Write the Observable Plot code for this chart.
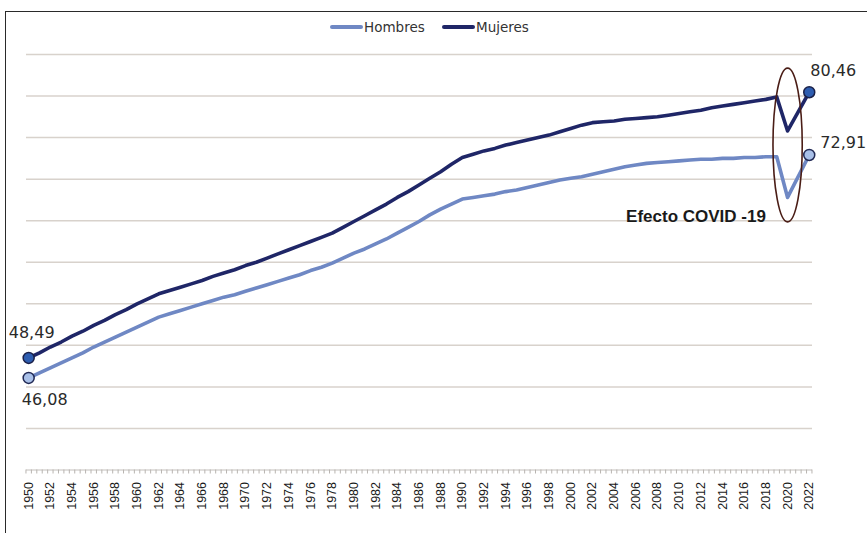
<!DOCTYPE html>
<html><head><meta charset="utf-8">
<script src="https://cdn.jsdelivr.net/npm/d3@7"></script>
<script src="https://cdn.jsdelivr.net/npm/@observablehq/plot@0.6"></script>
<style>
body{margin:0;background:#fff;overflow:hidden;}
#wrap{position:relative;width:867px;height:533px;overflow:hidden;background:#fff;}
#frame{position:absolute;left:5px;top:11px;width:900px;height:600px;border:1.5px solid #2a2a2a;box-sizing:border-box;pointer-events:none;}
#legend{position:relative;height:40px;}
.sw{position:absolute;height:4px;border-radius:2px;}
.lt{position:absolute;font-family:"DejaVu Sans";font-size:13.5px;color:#333;line-height:16px;white-space:nowrap;}
#chart{position:relative;}
</style></head><body>
<div id="wrap"><div id="frame"></div><div id="legend"></div><div id="chart"></div></div>
<script>
const years = [1950,1951,1952,1953,1954,1955,1956,1957,1958,1959,1960,1961,1962,1963,1964,1965,1966,1967,1968,1969,
  1970,1971,1972,1973,1974,1975,1976,1977,1978,1979,1980,1981,1982,1983,1984,1985,1986,1987,1988,1989,
  1990,1991,1992,1993,1994,1995,1996,1997,1998,1999,2000,2001,2002,2003,2004,2005,2006,2007,2008,2009,
  2010,2011,2012,2013,2014,2015,2016,2017,2018,2019,2020,2022];
const hombres = [46.08,46.7,47.3,47.9,48.5,49.1,49.8,50.4,51.0,51.6,52.2,52.8,53.4,53.8,54.2,54.6,55.0,55.4,55.8,56.1,
  56.5,56.9,57.3,57.7,58.1,58.5,59.0,59.4,59.9,60.5,61.1,61.6,62.2,62.8,63.5,64.2,64.9,65.7,66.4,67.0,
  67.6,67.8,68.0,68.2,68.5,68.7,69.0,69.3,69.6,69.9,70.1,70.3,70.6,70.9,71.2,71.5,71.7,71.9,72.0,72.1,
  72.2,72.3,72.4,72.4,72.5,72.5,72.6,72.6,72.7,72.7,67.8,72.91];
const mujeres = [48.49,49.1,49.8,50.4,51.1,51.7,52.4,53.0,53.7,54.3,55.0,55.6,56.2,56.6,57.0,57.4,57.8,58.3,58.7,59.1,
  59.6,60.0,60.5,61.0,61.5,62.0,62.5,63.0,63.5,64.2,64.9,65.6,66.3,67.0,67.8,68.5,69.3,70.1,70.9,71.8,
  72.6,73.0,73.4,73.7,74.1,74.4,74.7,75.0,75.3,75.7,76.1,76.5,76.8,76.9,77.0,77.2,77.3,77.4,77.5,77.7,
  77.9,78.1,78.3,78.6,78.8,79.0,79.2,79.4,79.6,79.9,75.8,80.46];
const tickYears = [1950,1952,1954,1956,1958,1960,1962,1964,1966,1968,1970,1972,1974,1976,1978,1980,1982,1984,1986,1988,
  1990,1992,1994,1996,1998,2000,2002,2004,2006,2008,2010,2012,2014,2016,2018,2020,2022];
const gridValues = [40,45,50,55,60,65,70,75,80,85];
const series = ["Hombres","Mujeres"];
const seriesColors = ["#6f88c4","#1f2667"];
const markerFills = ["#a9c0e8","#2e5db0"];
const covidNote = [{year:2018, value:65, text:"Efecto COVID -19"}];
const covidEllipse = [{x1:2018.7, x2:2021.4, y1:64.8, y2:83.3}];

const rows = years.map((yr,i)=>({year:yr, h:hombres[i], m:mujeres[i]}));
const first = rows[0], last = rows[rows.length-1];
const fmt = v => v.toFixed(2).replace(".", ",");
const halfTicks = d3.range(1949.75, 2022.3, 0.5);

// legend
const legend = document.getElementById("legend");
const lx = [330, 442];
series.forEach((s,i)=>{
  const sw = document.createElement("div");
  sw.className="sw"; sw.style.left=lx[i]+"px"; sw.style.top="25px"; sw.style.width="33px"; sw.style.background=seriesColors[i];
  legend.appendChild(sw);
  const t = document.createElement("div");
  t.className="lt"; t.style.left=(lx[i]+34)+"px"; t.style.top="19px"; t.textContent=s;
  legend.appendChild(t);
});

function ellipseMark(data){
  return (index, scales) => {
    const g = d3.create("svg:g");
    for (const e of data){
      const x1=scales.x(e.x1), x2=scales.x(e.x2), y1=scales.y(e.y1), y2=scales.y(e.y2);
      g.append("ellipse").attr("cx",(x1+x2)/2).attr("cy",(y1+y2)/2)
        .attr("rx",Math.abs(x2-x1)/2).attr("ry",Math.abs(y2-y1)/2)
        .attr("fill","none").attr("stroke","#4a1d16").attr("stroke-width",1.6);
    }
    return g.node();
  };
}

const plot = Plot.plot({
  width: 867, height: 493,
  marginTop: 14, marginBottom: 63.5, marginLeft: 26, marginRight: 55,
  x: {domain:[1949.8, 2022.3], axis:null, label:null},
  y: {domain:[35,85], axis:null, label:null},
  style: {fontFamily:"Liberation Sans", background:"transparent", color:"#1a1a1a", overflow:"visible"},
  marks: [
    Plot.ruleY(gridValues, {stroke:"#d8d2cc", strokeWidth:1.5}),
    Plot.ruleY([35], {stroke:"#c4c0bc", strokeWidth:1.2}),
    Plot.axisX(halfTicks, {tickSize:4, tickFormat:()=>"", stroke:"#b8b4b0", label:null}),
    Plot.axisX(tickYears, {tickSize:0, tickPadding:12, tickRotate:-90, tickFormat:d=>String(d), fontSize:12.5, label:null}),
    Plot.line(rows, {x:"year", y:"h", stroke:seriesColors[0], strokeWidth:3.6, strokeLinejoin:"round"}),
    Plot.line(rows, {x:"year", y:"m", stroke:seriesColors[1], strokeWidth:3.6, strokeLinejoin:"round"}),
    Plot.dot([first,last], {x:"year", y:"h", r:5.5, fill:markerFills[0], stroke:"#222a55", strokeWidth:1.5}),
    Plot.dot([first,last], {x:"year", y:"m", r:5.5, fill:markerFills[1], stroke:"#1a2048", strokeWidth:1.5}),
    Plot.text([first], {x:"year", y:"m", text:d=>fmt(d.m), dx:3, dy:-25, fontSize:16, fontFamily:"DejaVu Sans", fill:"#2a2a2a"}),
    Plot.text([first], {x:"year", y:"h", text:d=>fmt(d.h), dx:16, dy:22, fontSize:16, fontFamily:"DejaVu Sans", fill:"#2a2a2a"}),
    Plot.text([last], {x:"year", y:"m", text:d=>fmt(d.m), dx:24, dy:-21, fontSize:16, fontFamily:"DejaVu Sans", fill:"#2a2a2a"}),
    Plot.text([last], {x:"year", y:"h", text:d=>fmt(d.h), dx:34, dy:-12, fontSize:16, fontFamily:"DejaVu Sans", fill:"#2a2a2a"}),
    Plot.text(covidNote, {x:"year", y:"value", text:"text", textAnchor:"end", lineAnchor:"bottom", dy:1, fontSize:17, fontWeight:"bold", fontFamily:"Liberation Sans", fill:"#1a1a1a"}),
    ellipseMark(covidEllipse)
  ]
});
document.getElementById("chart").appendChild(plot);
</script>
</body></html>
